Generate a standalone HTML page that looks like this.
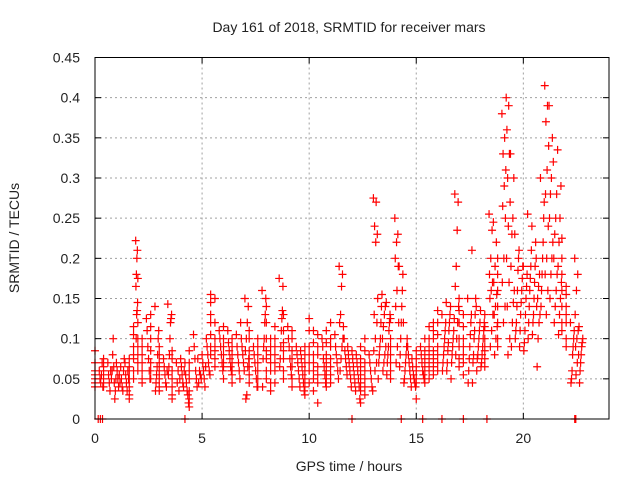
<!DOCTYPE html>
<html><head><meta charset="utf-8"><style>
html,body{margin:0;padding:0;background:#fff}
svg{display:block;font-family:"Liberation Sans",sans-serif}
</style></head><body>
<svg id="chart" width="640" height="480" viewBox="0 0 640 480">
<rect width="640" height="480" fill="#fff"/>
<text x="349" y="32" font-size="14" text-anchor="middle" fill="#222">Day 161 of 2018, SRMTID for receiver mars</text>
<text x="349" y="471" font-size="14" text-anchor="middle" fill="#222">GPS time / hours</text>
<text x="0" y="0" font-size="14" text-anchor="middle" fill="#222" transform="translate(19,238) rotate(-90)">SRMTID / TECUs</text>
<g id="grid"></g>
<g id="ticks"></g>
<g id="marks"></g>
<rect x="95" y="57.5" width="514" height="361.5" fill="none" stroke="#000" stroke-width="1"/>
</svg>
<script>
const xTicks=[0,5,10,15,20];
const yTicks=[0,0.05,0.1,0.15,0.2,0.25,0.3,0.35,0.4,0.45];
const yTickLabels=["0","0.05","0.1","0.15","0.2","0.25","0.3","0.35","0.4","0.45"];
const groupTimes=[0,0.2,0.4,0.6,0.8,1.0,1.2,1.4,1.6,1.8,1.9,2.0,2.2,2.4,2.6,2.8,3.0,3.2,3.4,3.6,3.8,4.0,4.2,4.4,4.6,4.8,5.0,5.2,5.4,5.6,5.8,6.0,6.2,6.4,6.6,6.8,7.0,7.2,7.4,7.6,7.8,8.0,8.2,8.4,8.6,8.8,9.0,9.2,9.4,9.6,9.8,10.0,10.2,10.4,10.6,10.8,11.0,11.2,11.4,11.6,11.8,12.0,12.2,12.4,12.6,12.8,13.0,13.2,13.4,13.6,13.8,14.0,14.2,14.4,14.6,14.8,15.0,15.2,15.4,15.6,15.8,16.0,16.2,16.4,16.6,16.8,17.0,17.2,17.4,17.6,17.8,18.0,18.2,18.4,18.6,18.8,19.0,19.2,19.4,19.6,19.8,20.0,20.2,20.4,20.6,20.8,21.0,21.2,21.4,21.6,21.8,22.0,22.2,22.4,22.6];
const groupValues=[
[.085,.07,.06,.05,.045,.04,.055],[.06,.05,.045,.055,.07,.04],[.065,.05,.04,.055,.06,.075,.045],[.07,.055,.045,.035,.06,.05],
[.06,.05,.035,.025,.045,.065,.1,.08],[.07,.06,.05,.04,.055,.045],[.065,.05,.04,.035,.06,.075],[.07,.055,.045,.035,.06,.05],
[.075,.06,.05,.04,.03,.025,.065],[.115,.09,.08,.06,.05,.105,.075],[.222,.21,.2,.18,.165,.145,.135,.13,.1],[.175,.12,.1,.09,.08,.07,.06],
[.1,.09,.08,.07,.06,.05,.045],[.125,.11,.09,.075,.06,.05],[.13,.115,.1,.085,.07,.06,.05],[.14,.11,.1,.08,.065,.055,.045,.035],
[.09,.08,.07,.06,.05,.04,.035],[.075,.065,.055,.045,.04,.06],[.143,.13,.125,.12,.1,.08,.065,.055],[.085,.075,.06,.05,.04,.03,.025],
[.07,.06,.05,.045,.035],[.075,.065,.055,.045,.04,.06],[.07,.055,.045,.035,.03,.02],[.085,.07,.06,.05,.035,.025,.015],
[.105,.09,.075,.06,.05,.04],[.075,.06,.05,.045,.055],[.08,.07,.06,.05,.04,.065],[.1,.09,.08,.07,.06,.055],
[.155,.145,.13,.12,.105,.09,.08],[.15,.12,.1,.09,.085,.075,.065],[.11,.1,.09,.08,.07,.06],[.115,.1,.09,.08,.07,.065,.05],
[.11,.095,.085,.075,.065,.06],[.1,.09,.08,.07,.06,.055,.045],[.105,.09,.08,.07,.06,.05],[.12,.1,.09,.08,.07,.06],
[.15,.14,.12,.1,.085,.075,.065,.03,.025],[.11,.1,.085,.075,.065,.055,.045],[.09,.08,.07,.06,.05,.04],[.1,.09,.08,.07,.06,.05,.04],
[.16,.15,.13,.12,.1,.09,.075,.04],[.14,.12,.1,.085,.075,.06,.05],[.1,.09,.08,.07,.06,.045,.035],[.115,.1,.09,.08,.07,.06,.045],
[.175,.165,.135,.125,.11,.09,.075,.065],[.13,.11,.095,.085,.075,.06,.05],[.115,.1,.09,.075,.065,.055],[.11,.1,.085,.075,.065,.05,.04],
[.09,.08,.07,.06,.05,.04],[.085,.075,.065,.055,.045,.035],[.09,.08,.07,.06,.05,.04,.03],[.125,.11,.09,.08,.07,.06,.045],
[.11,.095,.08,.07,.06,.05,.035],[.105,.09,.08,.065,.055,.045,.02],[.1,.09,.075,.065,.055,.045],[.11,.095,.08,.07,.06,.05,.04],
[.12,.1,.09,.075,.065,.055,.045],[.105,.09,.08,.07,.06,.05],[.19,.18,.165,.13,.12,.1,.09,.075,.06],[.115,.1,.085,.075,.065,.055],
[.09,.08,.07,.06,.05,.04],[.085,.075,.065,.055,.045,.035],[.08,.07,.06,.05,.04,.025],[.09,.075,.065,.055,.045,.035,.02],
[.1,.085,.07,.06,.05,.04,.03],[.08,.07,.06,.05,.04,.035],[.275,.27,.24,.23,.22,.13,.12,.1,.085,.07,.06],[.15,.14,.12,.1,.09,.08,.07,.05],
[.155,.14,.13,.115,.1,.09,.08,.07,.06],[.145,.13,.12,.11,.09,.08,.07,.055],[.125,.1,.09,.08,.07,.06,.05],[.25,.23,.22,.2,.19,.16,.14,.12,.09,.07],
[.19,.18,.16,.14,.12,.1,.08,.065],[.12,.1,.09,.08,.07,.06,.05,.045],[.09,.08,.07,.06,.05,.04],[.075,.065,.055,.05,.045,.04],
[.085,.075,.065,.06,.05,.045,.025],[.09,.08,.07,.06,.055,.05],[.1,.085,.075,.065,.06,.05,.045],[.115,.1,.09,.08,.07,.06,.05],
[.12,.11,.1,.085,.075,.065,.055],[.135,.12,.105,.09,.08,.07,.06],[.13,.12,.11,.1,.09,.08,.07,.06],[.145,.13,.12,.11,.095,.085,.07,.06],
[.14,.125,.11,.1,.09,.08,.07,.05],[.28,.27,.235,.19,.165,.14,.12,.1,.08],[.15,.135,.12,.1,.09,.075,.065],[.13,.115,.1,.09,.08,.07,.055],
[.15,.13,.12,.105,.09,.075,.06,.045],[.21,.15,.13,.11,.1,.08,.07,.045],[.14,.12,.11,.1,.09,.08,.075,.06],[.135,.12,.11,.1,.09,.08,.07,.065],
[.13,.115,.1,.09,.085,.075,.065],[.255,.235,.2,.18,.17,.16,.15,.13,.11,.09],[.245,.22,.19,.17,.155,.14,.13,.115,.1,.08],[.2,.18,.16,.14,.12,.1,.09],
[.38,.35,.33,.31,.29,.265,.25,.2,.17,.14,.12],[.4,.39,.36,.33,.3,.27,.24,.2,.17,.14,.1,.08],[.33,.3,.25,.23,.19,.16,.145,.12,.09],[.23,.2,.185,.16,.14,.12,.11,.1],
[.21,.19,.175,.16,.145,.13,.11,.09],[.19,.18,.165,.15,.13,.11,.095,.085],[.255,.21,.19,.175,.16,.14,.12,.1],[.24,.22,.19,.17,.15,.13,.12,.105],
[.2,.18,.165,.15,.14,.13,.12,.1,.065],[.3,.27,.25,.22,.2,.18,.16,.14],[.415,.39,.37,.34,.31,.28,.24,.2,.18,.16,.13],[.39,.35,.3,.28,.25,.22,.2,.18,.15],
[.32,.28,.25,.23,.2,.18,.16,.14,.12],[.335,.29,.25,.22,.19,.17,.15,.13,.105],[.225,.2,.18,.16,.14,.12,.11],[.165,.155,.14,.13,.12,.1,.09],
[.12,.11,.1,.09,.08,.06,.05,.045],[.2,.18,.16,.13,.11,.1,.09,.08,.07,.055],[.115,.1,.095,.09,.08,.07,.06,.045]];
const zeroTimes=[0.15,0.25,0.35,4.2,12.0,14.3,15.3,16.2,17.2,18.3,22.4,22.45];

const X0=95,X1=609,Y0=419,Y1=57.5;
const xs=t=>X0+(X1-X0)*t/24;
const ys=v=>Y0-(Y0-Y1)*v/0.45;
const NS='http://www.w3.org/2000/svg';
function mk(tag,attrs,parent){const e=document.createElementNS(NS,tag);for(const k in attrs)e.setAttribute(k,attrs[k]);parent.appendChild(e);return e;}
const grid=document.getElementById('grid'),ticks=document.getElementById('ticks'),marks=document.getElementById('marks');
xTicks.forEach(t=>{
  const x=xs(t);
  if(t>0){const g=mk('line',{x1:x,x2:x,y1:Y1,y2:Y0,stroke:'#a0a0a0','stroke-dasharray':'2,3'},grid);
  
  }
  mk('line',{x1:x,x2:x,y1:Y0,y2:Y0-6,stroke:'#000'},ticks);
  mk('line',{x1:x,x2:x,y1:Y1,y2:Y1+6,stroke:'#000'},ticks);
  const l=mk('text',{x:x,y:Y0+24,'font-size':14,'text-anchor':'middle',fill:'#222'},ticks);
  l.textContent=t;
  
  
});
yTicks.forEach((v,i)=>{
  const y=ys(v);
  if(v>0&&v<0.45){const g=mk('line',{x1:X0,x2:X1,y1:y,y2:y,stroke:'#a0a0a0','stroke-dasharray':'2,3'},grid);
  
  }
  mk('line',{x1:X0,x2:X0+6,y1:y,y2:y,stroke:'#000'},ticks);
  mk('line',{x1:X1,x2:X1-6,y1:y,y2:y,stroke:'#000'},ticks);
  const l=mk('text',{x:X0-15,y:y+5,'font-size':14,'text-anchor':'end',fill:'#222'},ticks);
  l.textContent=yTickLabels[i];
  
  
});
let d='';
groupTimes.forEach((t,gi)=>{
  const vals=groupValues[gi];
  const span=(gi+1<groupTimes.length?groupTimes[gi+1]:t+0.2)-t;
  vals.forEach((v,i)=>{
    const x=xs(t+span*((i*7)%vals.length)/vals.length),y=ys(v);
    d+='M'+(x-4)+' '+y+'h8M'+x+' '+(y-4)+'v8';
  });
});
zeroTimes.forEach(t=>{const x=xs(t),y=ys(0);d+='M'+(x-4)+' '+y+'h8M'+x+' '+(y-4)+'v8';});
const p=mk('path',{d:d,stroke:'#ff0000','stroke-width':1.2,fill:'none'},marks);


</script>
</body></html>
